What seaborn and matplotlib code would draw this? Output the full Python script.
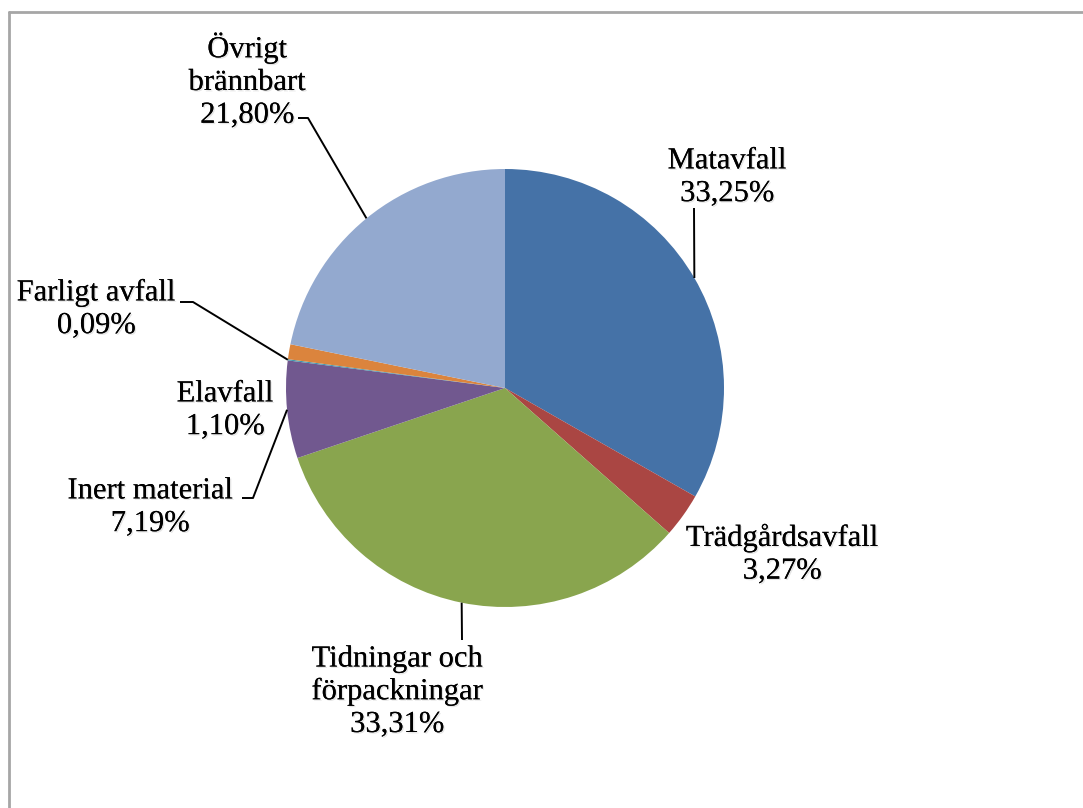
import numpy as np
import seaborn as sns
import matplotlib.pyplot as plt
import matplotlib.patheffects as pe

# ==============================
# Data (share of waste, %)
# ==============================
categories = ["Matavfall", "Trädgårdsavfall", "Tidningar och\nförpackningar",
              "Inert material", "Farligt avfall", "Elavfall", "Övrigt\nbrännbart"]
shares = [33.25, 3.27, 33.31, 7.19, 0.09, 1.10, 21.80]
share_labels = ["33,25%", "3,27%", "33,31%", "7,19%", "0,09%", "1,10%", "21,80%"]
colors = ["#4572A7", "#AA4643", "#89A54E", "#71588F", "#4198AF", "#DB843D", "#93A9CF"]

# label placement in pixels (x center, y of first line) + optional elbow point
label_pos = [(727, 161), (782, 538), (397, 659), (150, 491), (96, 293), (225, 394), (247, 48)]
elbows = [[(694, 208)], None, [(462, 640)], [(253, 498), (242, 498)],
          [(193, 302), (180, 302)], None, [(308, 118), (298, 118)]]

W, H = 1083, 808
CX, CY, R = 505, 388, 219
LINE_H = 32.5

sns.set_theme(style="white")
plt.rcParams['font.family'] = ['Liberation Serif', 'DejaVu Serif']

fig = plt.figure(figsize=(W / 100, H / 100), dpi=100)
ax = fig.add_axes([0, 0, 1, 1])

wedges, _ = ax.pie(shares, colors=colors, startangle=90, counterclock=False,
                   center=(CX, H - CY), radius=R,
                   wedgeprops=dict(linewidth=0))
ax.set_xlim(0, W)
ax.set_ylim(0, H)
ax.set_aspect("equal")
ax.axis("off")

shadow = [pe.withSimplePatchShadow(offset=(1, -1), shadow_rgbFace="gray", alpha=0.2), pe.Normal()]

for w, cat, lab, pos, elb in zip(wedges, categories, share_labels, label_pos, elbows):
    txt = cat + "\n" + lab
    nlines = txt.count("\n") + 1
    # pos gives the centre of the first line; shift to the block centre
    yc = pos[1] + (nlines - 1) * LINE_H / 2
    ax.text(pos[0], H - yc, txt, ha="center", va="center", fontsize=22,
            linespacing=1.17, color="black", path_effects=shadow)
    if elb is not None:
        mid = np.deg2rad((w.theta1 + w.theta2) / 2)
        px = CX + R * np.cos(mid)
        py = (H - CY) + R * np.sin(mid)
        xs = [px] + [e[0] for e in elb]
        ys = [py] + [H - e[1] for e in elb]
        ax.plot(xs, ys, color="black", lw=1.4, solid_capstyle="butt")

# chart frame (top and left edge only visible)
ax.plot([8.5, W], [H - 12, H - 12], color="#A6A6A6", lw=2)
ax.plot([8.5, 8.5], [0, H - 12], color="#A6A6A6", lw=2)

fig.savefig("out.png", dpi=100)
